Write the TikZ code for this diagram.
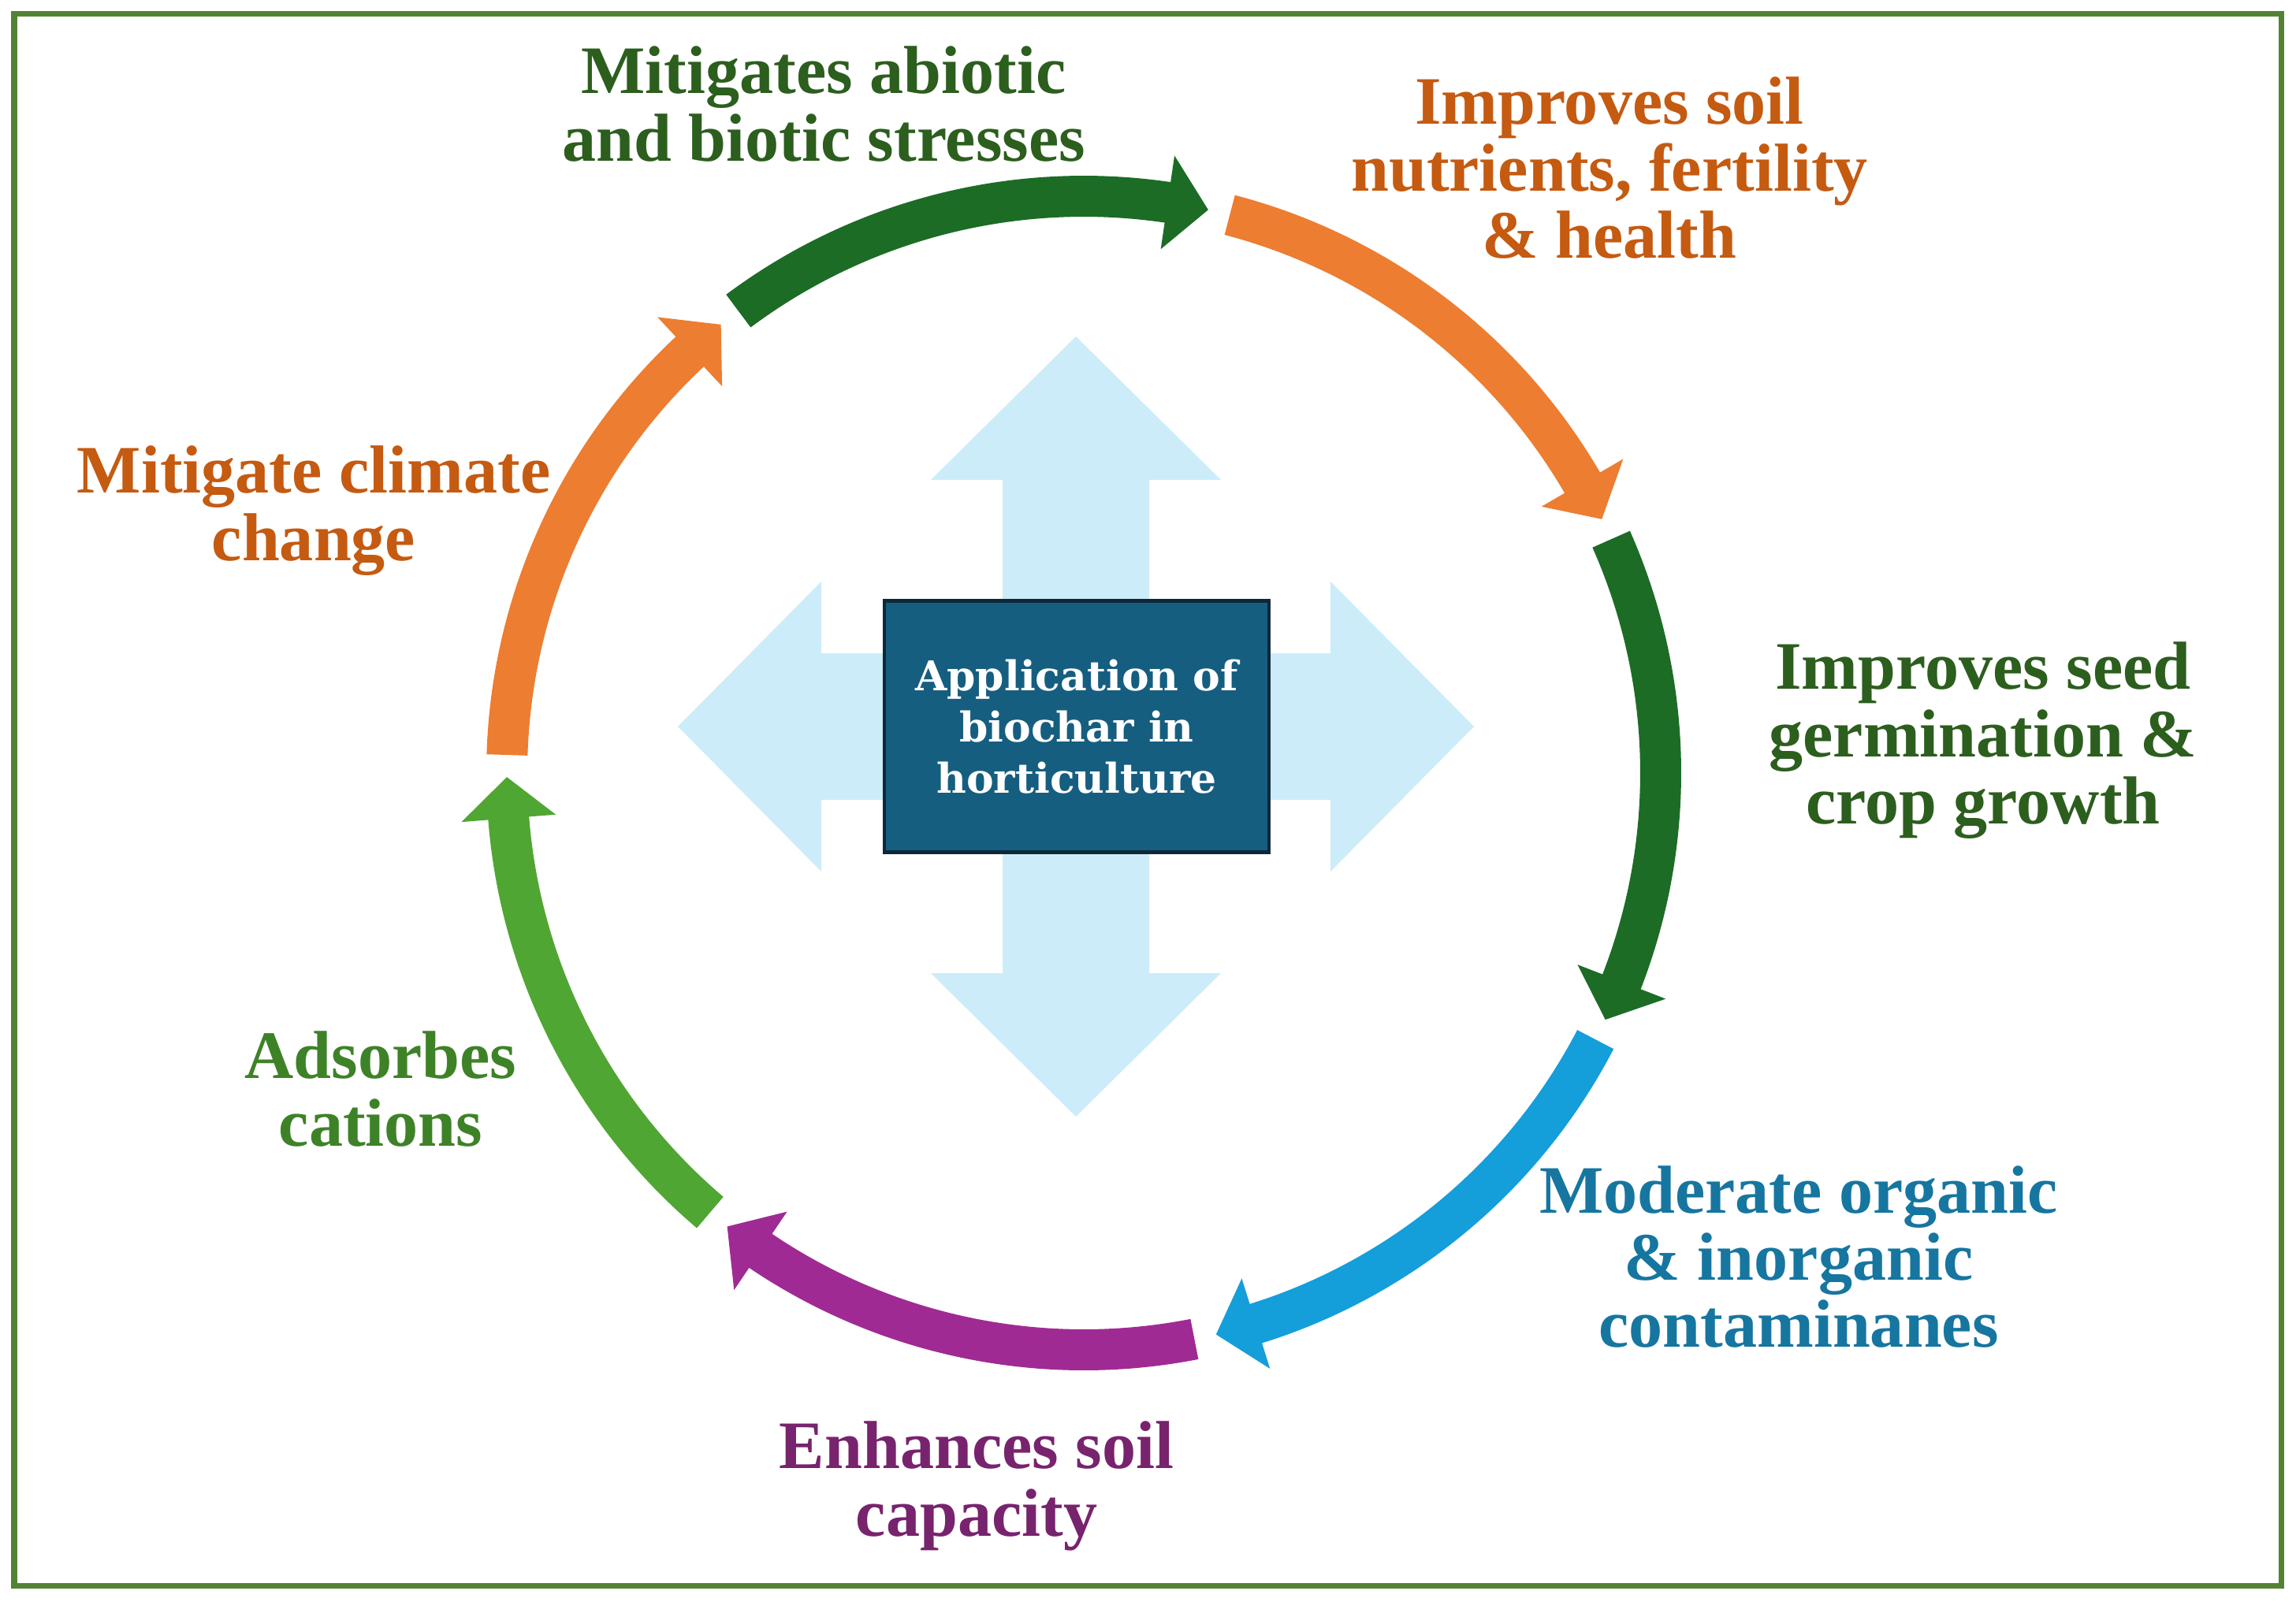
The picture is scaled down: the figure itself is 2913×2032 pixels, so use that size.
\documentclass[tikz,border=0pt]{standalone}
\usepackage{fontspec}
\setmainfont{Liberation Serif}
\newfontfamily\corefont{DejaVu Serif}
\usetikzlibrary{calc}
\definecolor{framegr}{RGB}{84,130,53}
\definecolor{darkgr}{RGB}{28,108,38}
\definecolor{darkgrtxt}{RGB}{44,94,30}
\definecolor{orng}{RGB}{237,125,49}
\definecolor{orngtxt}{RGB}{197,90,17}
\definecolor{litgr}{RGB}{80,166,50}
\definecolor{litgrtxt}{RGB}{62,130,40}
\definecolor{purp}{RGB}{160,42,148}
\definecolor{purptxt}{RGB}{120,35,110}
\definecolor{skyb}{RGB}{20,158,218}
\definecolor{skybtxt}{RGB}{22,118,160}
\definecolor{crossb}{RGB}{204,236,250}
\definecolor{corefill}{RGB}{22,94,128}
\definecolor{coreline}{RGB}{14,40,58}
\begin{document}
\begin{tikzpicture}[x=0.01cm,y=0.01cm,
    lbl/.style={font=\fontsize{24.5}{24.3}\selectfont\bfseries, align=center, inner sep=0pt},
    corebox/.style={draw=coreline, line width=1.2pt, fill=corefill, text=white,
      minimum width=4.87cm, minimum height=3.19cm, align=center,
      font=\corefont\fontsize{14.8}{18.4}\selectfont\bfseries}]
  \useasboundingbox[fill=white] (0,0) rectangle (2913,2032);
  \draw[framegr, line width=0.07cm] (18,2014) rectangle (2894,20);
  \fill[crossb] (1365,1605) -- (1549,1423) -- (1458,1423) -- (1458,797) -- (1549,797) -- (1365,615)
    -- (1181,797) -- (1272,797) -- (1272,1423) -- (1181,1423) -- cycle;
  \fill[crossb] (860,1110) -- (1042,1294) -- (1042,1203) -- (1688,1203) -- (1688,1294) -- (1870,1110)
    -- (1688,926) -- (1688,1017) -- (1042,1017) -- (1042,926) -- cycle;
  \node[corebox] (core) at (1366,1110) {Application of\\biochar in\\horticulture};
  \coordinate (C) at (1375,1051);
  \foreach \k/\col in {0/orng,1/darkgr,2/orng,3/darkgr,4/skyb,5/purp,6/litgr}{
    \pgfmathsetmacro\ta{180-\k*360/7-1.8}
    \pgfmathsetmacro\tb{180-(\k+1)*360/7+0.4}
    \pgfmathsetmacro\tc{\tb+4.1}
    \fill[\col] ($(C)+(\ta:758)$) arc[start angle=\ta,end angle=\tc,radius=758]
      -- ($(C)+(\tc:792)$) -- ($(C)+(\tb:732)$) -- ($(C)+(\tc:672)$)
      -- ($(C)+(\tc:706)$) arc[start angle=\tc,end angle=\ta,radius=706] -- cycle;
  }
  \node[lbl, text=darkgrtxt] (stress) at (1045,1900) {Mitigates abiotic\\and biotic stresses};
  \node[lbl, text=orngtxt] (fert) at (2042,1819) {Improves soil\\nutrients, fertility\\\& health};
  \node[lbl, text=darkgrtxt] (seed) at (2516,1092) {Improves seed\\germination \&\\crop growth};
  \node[lbl, text=skybtxt] (contam) at (2282,437) {Moderate organic\\\& inorganic\\contaminanes};
  \node[lbl, text=purptxt] (capac) at (1239,146) {Enhances soil\\capacity};
  \node[lbl, text=litgrtxt] (cation) at (483,650) {Adsorbes\\cations};
  \node[lbl, text=orngtxt] (climate) at (398,1384) {Mitigate climate\\change};
\end{tikzpicture}
\end{document}
